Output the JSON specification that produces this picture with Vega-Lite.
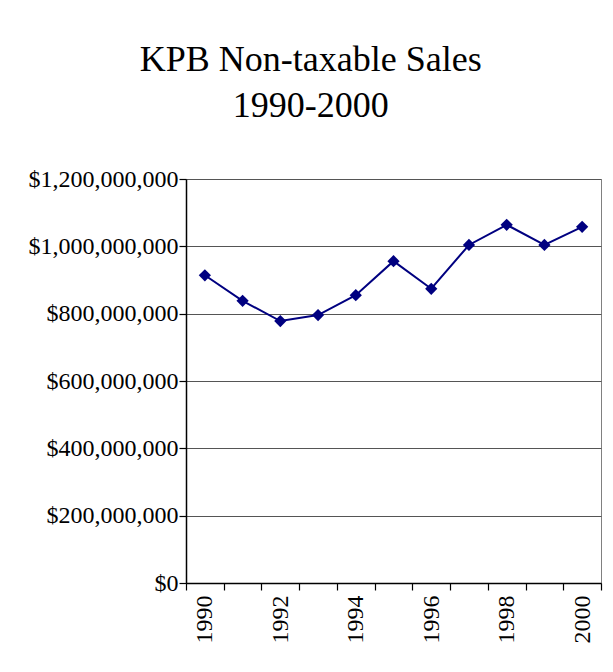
{
  "$schema": "https://vega.github.io/schema/vega-lite/v6.json",
  "autosize": "none",
  "width": 415,
  "height": 404,
  "padding": {"left": 186, "top": 179, "right": 12, "bottom": 89},
  "background": "white",
  "title": {
    "text": ["KPB Non-taxable Sales", "1990-2000"],
    "font": "Liberation Serif",
    "fontSize": 36,
    "fontWeight": "normal",
    "color": "black",
    "lineHeight": 46,
    "anchor": "middle",
    "frame": "bounds",
    "offset": 42,
    "dx": -4
  },
  "config": {
    "view": {"stroke": "#808080", "strokeWidth": 1},
    "title": {"font": "Liberation Serif"},
    "axis": {
      "labelFont": "Liberation Serif",
      "labelFontSize": 24,
      "labelColor": "black",
      "domainColor": "black",
      "tickColor": "black",
      "domainWidth": 1.5,
      "tickWidth": 1.2,
      "tickSize": 7
    }
  },
  "data": {
    "values": [
      {"year": 1990, "sales": 914000000},
      {"year": 1991, "sales": 838000000},
      {"year": 1992, "sales": 778000000},
      {"year": 1993, "sales": 796000000},
      {"year": 1994, "sales": 855000000},
      {"year": 1995, "sales": 956000000},
      {"year": 1996, "sales": 874000000},
      {"year": 1997, "sales": 1004000000},
      {"year": 1998, "sales": 1064000000},
      {"year": 1999, "sales": 1004000000},
      {"year": 2000, "sales": 1058000000}
    ]
  },
  "encoding": {
    "x": {
      "field": "year",
      "type": "ordinal",
      "scale": {"type": "band", "paddingInner": 0, "paddingOuter": 0},
      "axis": {
        "title": null,
        "tickBand": "extent",
        "labelAngle": 270,
        "labelPadding": 5,
        "labelExpr": "datum.value % 2 == 0 ? datum.label : ''"
      }
    },
    "y": {
      "field": "sales",
      "type": "quantitative",
      "scale": {"domain": [0, 1200000000], "nice": false},
      "axis": {
        "title": null,
        "values": [0, 200000000, 400000000, 600000000, 800000000, 1000000000, 1200000000],
        "format": "$,.0f",
        "grid": true,
        "gridColor": "#555555",
        "gridWidth": 1.2,
        "labelPadding": 1
      }
    }
  },
  "layer": [
    {"mark": {"type": "line", "color": "#000080", "strokeWidth": 2}},
    {"mark": {"type": "point", "shape": "diamond", "filled": true, "color": "#000080", "opacity": 1, "size": 150}}
  ]
}
